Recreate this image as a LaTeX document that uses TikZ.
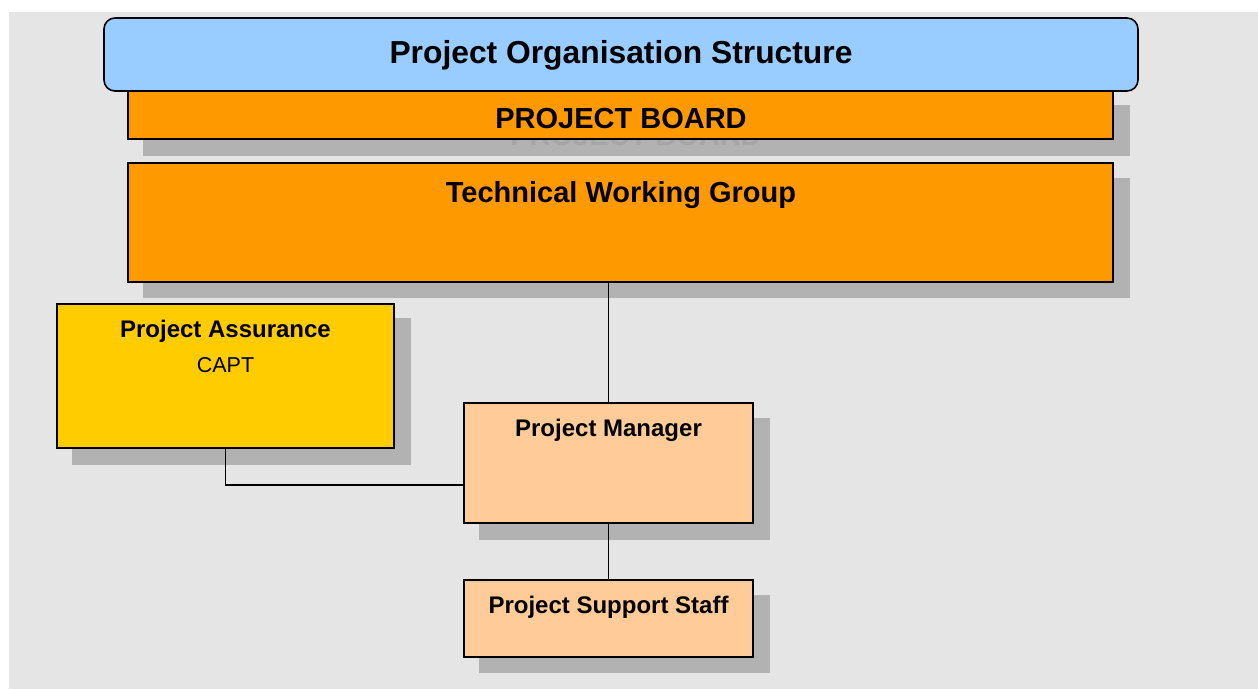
\documentclass[tikz,border=0pt]{standalone}
\usepackage{fontspec}
\setmainfont{Liberation Sans}
\definecolor{bgc}{HTML}{E5E5E5}
\definecolor{shad}{HTML}{B2B2B2}
\definecolor{ghost}{HTML}{A6A6A6}
\definecolor{titlec}{HTML}{99CCFF}
\definecolor{orangec}{HTML}{FF9900}
\definecolor{yellowc}{HTML}{FFCC00}
\definecolor{peachc}{HTML}{FFCC99}
\begin{document}
\begin{tikzpicture}[x=1pt,y=-1pt,
  box/.style={draw=black, line width=1.6pt, rectangle, inner sep=0pt, outer sep=0pt},
  conn/.style={draw=black, line width=1.5pt},
  shadowbox/.style={fill=shad},
  lbl/.style={inner sep=0pt, font=\bfseries\fontsize{24}{28}\selectfont},
  biglbl/.style={inner sep=0pt, font=\bfseries\fontsize{29}{34}\selectfont}]
\useasboundingbox (0,0) rectangle (1258,689);
\fill[bgc] (9,12) rectangle (1258,689);
% shadows
\fill[shadowbox] (143,105) rectangle (1130,156);
\node[biglbl, text=ghost] (ghosttext) at (636,136) {PROJECT BOARD};
\fill[shadowbox] (143,178) rectangle (1130,298);
\fill[shadowbox] (72,318) rectangle (411,465);
\fill[shadowbox] (479,418) rectangle (770,540);
\fill[shadowbox] (479,595) rectangle (770,673);
% boxes
\node[box, fill=orangec, minimum width=985pt, minimum height=48pt] (board) at (620.5,115) {};
\node[box, fill=titlec, rounded corners=11pt, minimum width=1034pt, minimum height=73pt] (title) at (621,54.5) {};
\node[box, fill=orangec, minimum width=985pt, minimum height=119pt] (twg) at (620.5,222.5) {};
\node[box, fill=yellowc, minimum width=337pt, minimum height=144pt] (pa) at (225.5,376) {};
\node[box, fill=peachc, minimum width=289pt, minimum height=120pt] (pm) at (608.5,463) {};
\node[box, fill=peachc, minimum width=289pt, minimum height=77pt] (pss) at (608.5,618.5) {};
% texts
\node[inner sep=0pt, font=\bfseries\fontsize{31.8}{36}\selectfont] (titletext) at (621,55) {Project Organisation Structure};
\node[biglbl] (boardtext) at (621,119) {PROJECT BOARD};
\node[biglbl] (twgtext) at (621,195) {Technical Working Group};
\node[lbl] (patext) at (225.5,331) {Project Assurance};
\node[inner sep=0pt, font=\fontsize{21.5}{26}\selectfont] (capt) at (225.5,365) {CAPT};
\node[lbl] (pmtext) at (608.5,430) {Project Manager};
\node[lbl] (psstext) at (608.5,607) {Project Support Staff};
% connectors
\draw[conn] (pm.north |- twg.south) -- (pm.north);
\draw[conn] (pa.south) |- ([yshift=-22pt]pm.west);
\draw[conn] (pm.south) -- (pss.north);
\end{tikzpicture}
\end{document}
